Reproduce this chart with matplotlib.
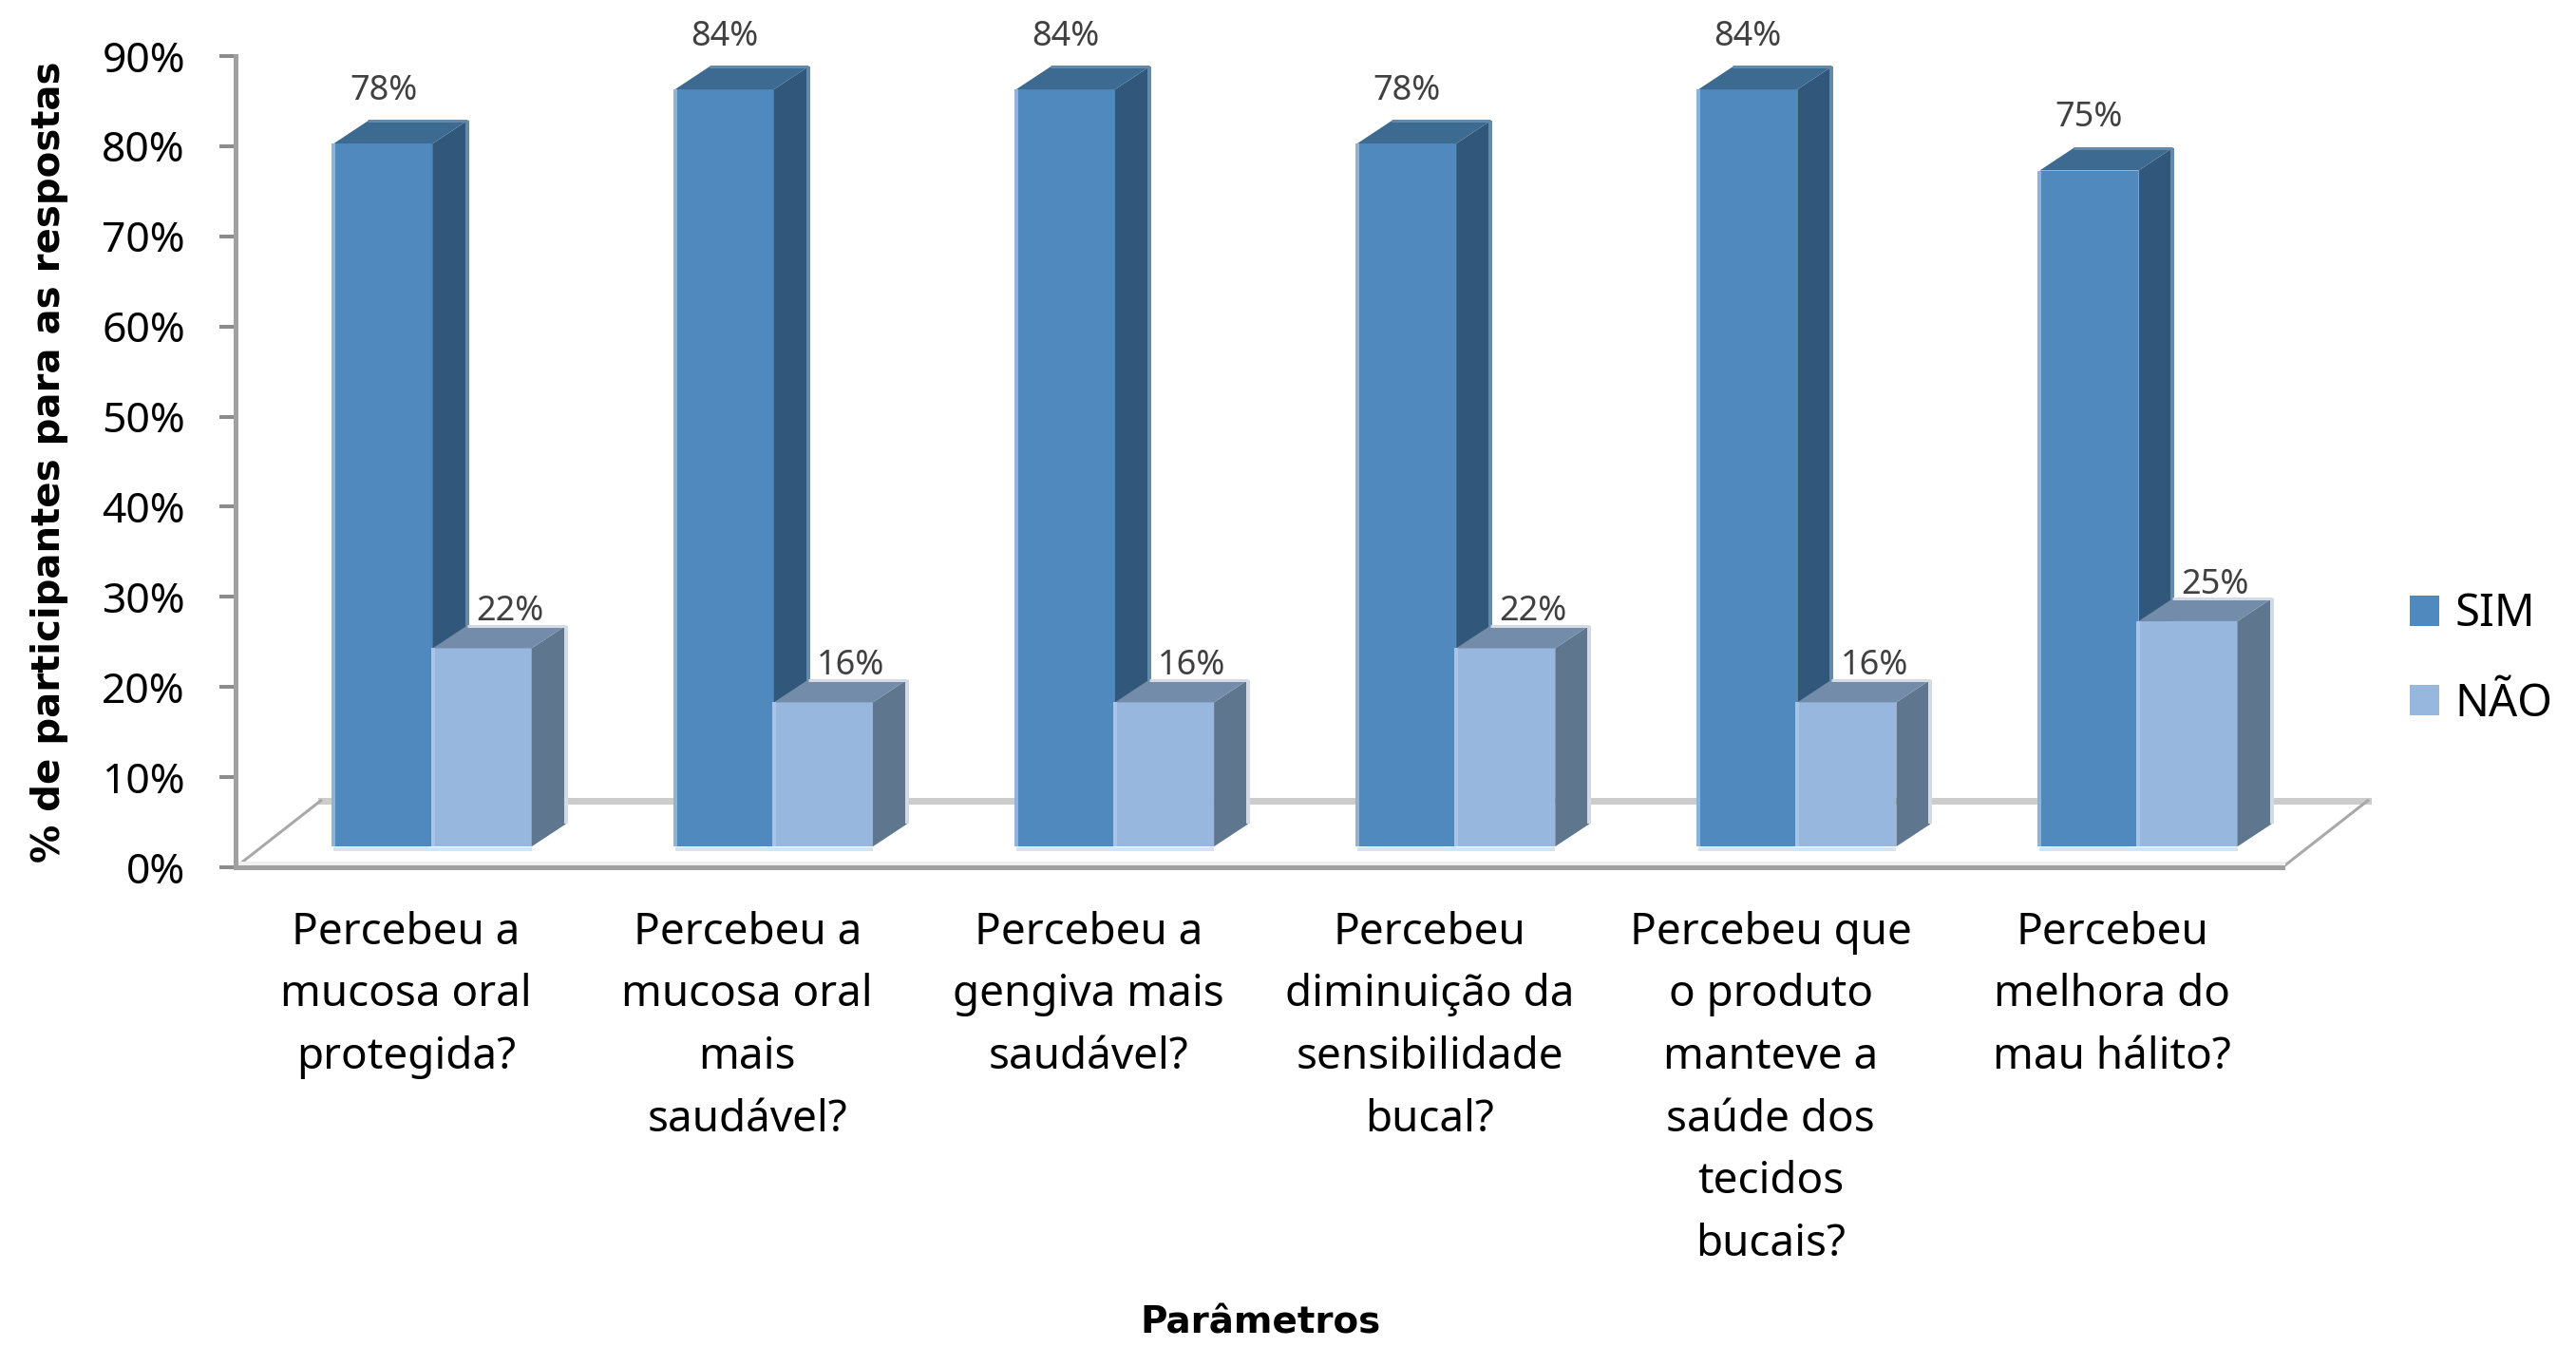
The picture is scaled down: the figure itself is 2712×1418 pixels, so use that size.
import numpy as np
import matplotlib.pyplot as plt
from matplotlib.patches import Patch

plt.rcParams['font.family'] = ['Noto Sans', 'DejaVu Sans']

# ---- data ----
categories = [
    "Percebeu a\nmucosa oral\nprotegida?",
    "Percebeu a\nmucosa oral\nmais\nsaudável?",
    "Percebeu a\ngengiva mais\nsaudável?",
    "Percebeu\ndiminuição da\nsensibilidade\nbucal?",
    "Percebeu que\no produto\nmanteve a\nsaúde dos\ntecidos\nbucais?",
    "Percebeu\nmelhora do\nmau hálito?",
]
sim = [78, 84, 84, 78, 84, 75]
nao = [22, 16, 16, 22, 16, 25]
yticks = np.arange(0, 91, 10)

# ---- pseudo-3D geometry (data units: x = category, y = percent) ----
FLOOR_DX, FLOOR_DY = 0.25, 7.4     # depth of the floor slab
BASE_DX, BASE_DY = 0.078, 2.3      # where the bar front faces sit on the floor
BAR_W = 0.29
DEPTH_DX, DEPTH_DY = 0.10, 2.5     # bar depth

SIM_COLORS = dict(front='#4F89BD', top='#3D6A91', side='#31587B',
                  edge='#8DB4D8', rim='#6589A9')
NAO_COLORS = dict(front='#97B7DF', top='#728CA9', side='#5F768F',
                  edge='#A9C4E6', rim='#D3DAE3')

W, H = 2712, 1418
fig = plt.figure(figsize=(W / 100, H / 100), dpi=100)
ax = fig.add_axes([248 / W, 1 - 913 / H, (2403 - 248) / W, (913 - 59) / H])
ax.set_xlim(0, len(categories))
ax.set_ylim(0, 90)

px = 0.72  # one pixel in points


def draw_box(x0, h, c):
    y0 = BASE_DY
    x1 = x0 + BAR_W
    y1 = y0 + h
    kw = dict(lw=0, clip_on=False, zorder=3)
    ax.fill([x0, x1, x1, x0], [y0, y0, y1, y1], color=c['front'], **kw)
    ax.fill([x1, x1 + DEPTH_DX, x1 + DEPTH_DX, x1],
            [y0, y0 + DEPTH_DY, y1 + DEPTH_DY, y1], color=c['side'], **kw)
    ax.fill([x0, x1, x1 + DEPTH_DX, x0 + DEPTH_DX],
            [y1, y1, y1 + DEPTH_DY, y1 + DEPTH_DY], color=c['top'], **kw)
    lk = dict(clip_on=False, zorder=3, solid_capstyle='butt')
    ax.plot([x0, x0], [y0, y1], color=c['edge'], lw=4 * px, **lk)
    ax.plot([x1 + DEPTH_DX] * 2, [y0 + DEPTH_DY, y1 + DEPTH_DY],
            color=c['rim'], lw=4 * px, **lk)
    ax.plot([x0 + DEPTH_DX, x1 + DEPTH_DX], [y1 + DEPTH_DY] * 2,
            color=c['rim'], lw=3 * px, **lk)
    ax.plot([x0, x1], [y0 - 0.25] * 2, color='#D6E3F0', lw=4 * px, **lk)


# floor slab
n = len(categories)
ax.fill([0, FLOOR_DX, n + FLOOR_DX, n], [0, FLOOR_DY, FLOOR_DY, 0],
        color='white', lw=0, clip_on=False, zorder=1)
ax.plot([FLOOR_DX, n + FLOOR_DX], [FLOOR_DY] * 2, color='#CCCCCC',
        lw=7 * px, clip_on=False, zorder=1.5)
ax.plot([0, FLOOR_DX], [0, FLOOR_DY], color='#A8A8A8', lw=3 * px,
        clip_on=False, zorder=1.5)
ax.plot([n, n + FLOOR_DX], [0, FLOOR_DY], color='#A8A8A8', lw=3 * px,
        clip_on=False, zorder=1.5)
ax.plot([0, n], [0.45, 0.45], color='#F0F0F0', lw=5 * px,
        clip_on=False, zorder=1.5)

# bars and value labels
for i, (s, q) in enumerate(zip(sim, nao)):
    c = i + 0.5 + BASE_DX
    draw_box(c - BAR_W, s, SIM_COLORS)
    draw_box(c, q, NAO_COLORS)
    ax.text(c - BAR_W / 2, BASE_DY + s + DEPTH_DY + 2.4, f'{s}%',
            ha='center', va='baseline', fontsize=26, color='#404040', zorder=4)
    ax.text(c + BAR_W / 2 + 0.08, BASE_DY + q + DEPTH_DY + 0.6, f'{q}%',
            ha='center', va='baseline', fontsize=26, color='#404040', zorder=4)

# axes styling
for side in ('top', 'right'):
    ax.spines[side].set_visible(False)
for side in ('left', 'bottom'):
    ax.spines[side].set_color('#A0A0A0')
    ax.spines[side].set_linewidth(5 * px)
    ax.spines[side].set_zorder(2)

ax.set_yticks(yticks, [f'{t}%' for t in yticks])
ax.tick_params(axis='y', length=17 * px, width=4 * px, color='#8C8C8C',
               pad=26, labelsize=32, labelcolor='black')
ax.set_xticks(np.arange(n) + 0.5, categories)
ax.tick_params(axis='x', length=0, pad=33, labelsize=33, labelcolor='black')
for lab in ax.get_xticklabels():
    lab.set_linespacing(1.56)

fig.text(52 / W, 1 - 486 / H, '% de participantes para as respostas',
         rotation=90, ha='center', va='center', fontsize=29,
         fontweight='bold', family='DejaVu Sans')
fig.text(1327 / W, 1 - 1404 / H, 'Parâmetros', ha='center', va='baseline',
         fontsize=28, fontweight='bold', family='DejaVu Sans')

handles = [Patch(facecolor=SIM_COLORS['front'], label='SIM'),
           Patch(facecolor=NAO_COLORS['front'], label='NÃO')]
fig.legend(handles=handles, loc='center left',
           bbox_to_anchor=(2537 / W, 1 - 694 / H), frameon=False,
           fontsize=34, handlelength=0.65, handleheight=0.65,
           handletextpad=0.35, labelspacing=1.0, borderpad=0,
           borderaxespad=0)

fig.savefig('out.png', dpi=100)
